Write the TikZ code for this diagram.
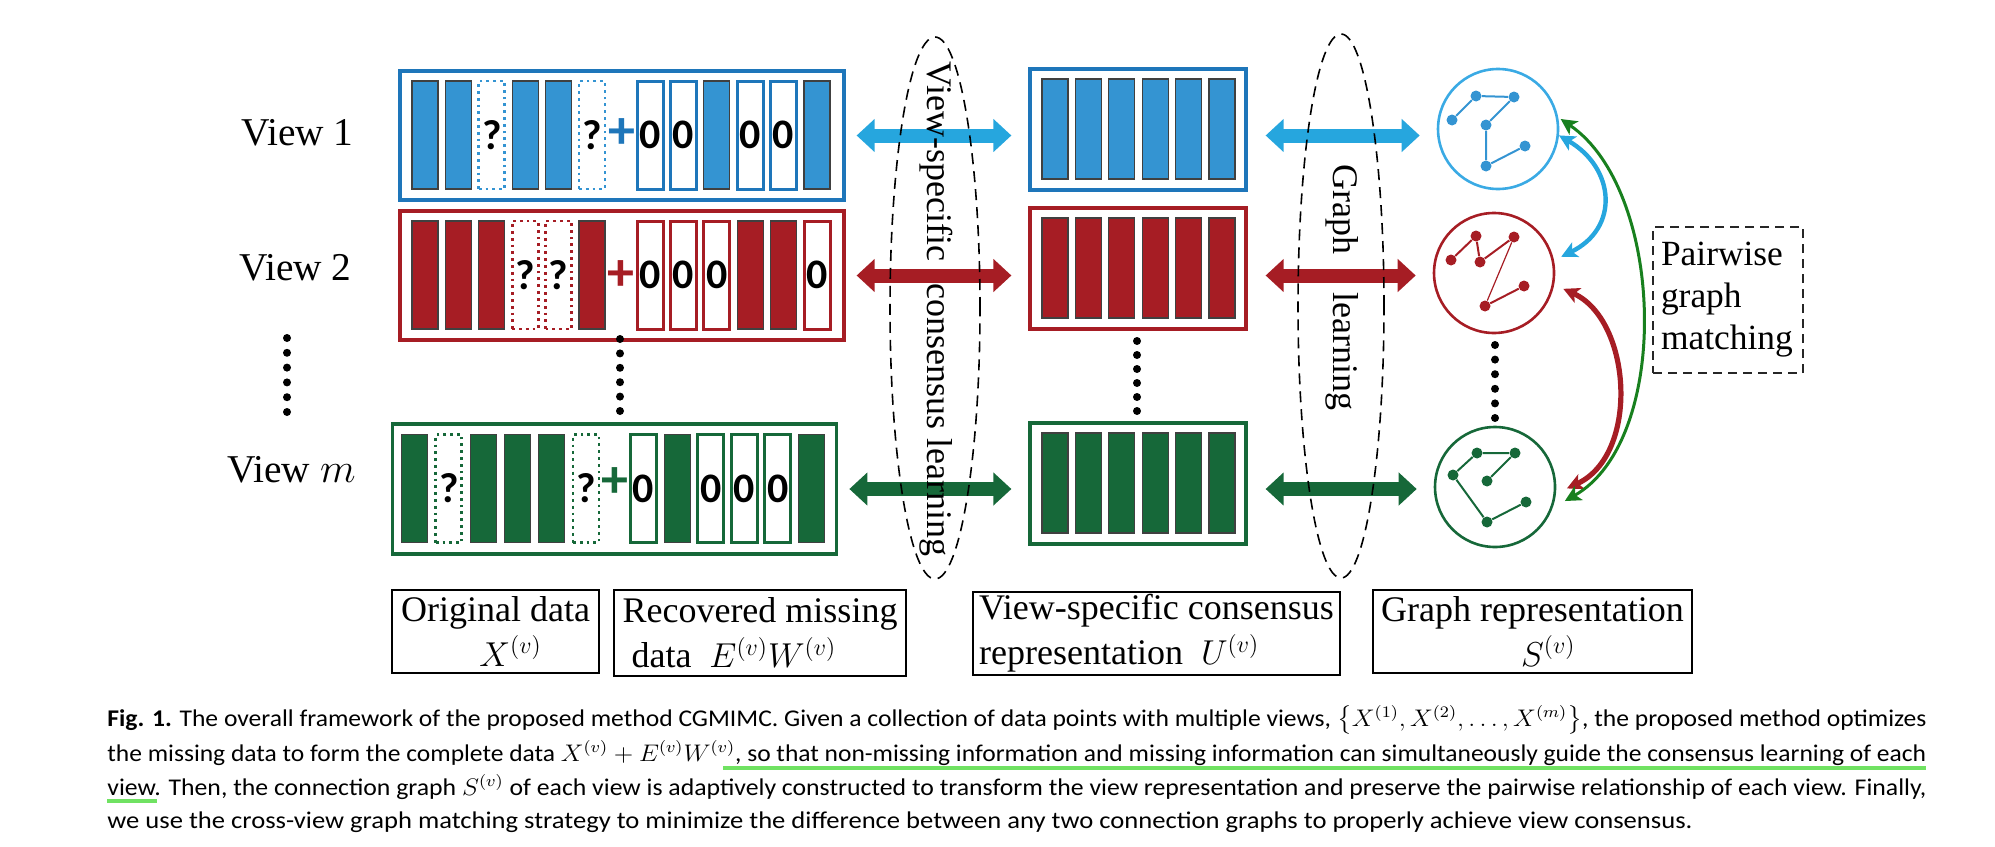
\documentclass[tikz,border=0pt]{standalone}
\usepackage{amsmath}
\usepackage{xcolor}
\usepackage{graphicx}
\usepackage{fontspec}
\usepackage{tikz}
\usetikzlibrary{arrows.meta, positioning, calc, shapes.geometric}
\setmainfont{Liberation Serif}
\newfontfamily\calfont{Carlito}

\definecolor{viewblue}{RGB}{52,148,210}
\definecolor{boxblue}{RGB}{30,118,186}
\definecolor{arrowblue}{RGB}{38,166,222}
\definecolor{graphblue}{RGB}{58,170,228}
\definecolor{viewred}{RGB}{166,29,36}
\definecolor{viewgreen}{RGB}{22,104,57}
\definecolor{matchgreen}{RGB}{24,128,30}
\definecolor{hlgreen}{RGB}{112,226,98}
\colorlet{vc}{viewblue}
\colorlet{bc}{boxblue}

\tikzset{
  rowcol/.code={\colorlet{vc}{#1}\colorlet{bc}{#1}},
  bar/.style={rectangle, inner sep=0pt, minimum width=13pt, minimum height=54pt,
    font=\calfont\bfseries\fontsize{21}{21}\selectfont},
  fullbar/.style={bar, fill=vc, draw=black!75, line width=0.6pt, node contents={}},
  missbar/.style={bar, draw=vc, line width=1.4pt, dotted, node contents={?}},
  zerobar/.style={bar, draw=bc, fill=white, line width=1.5pt, node contents={0}},
  slot/.code={\if#1f\pgfkeysalso{fullbar}\else\if#1q\pgfkeysalso{missbar}\else\pgfkeysalso{zerobar}\fi\fi},
  plussign/.style={text=bc, inner sep=0pt, font=\calfont\bfseries\fontsize{27}{27}\selectfont},
  viewbox/.style={draw=bc, line width=1.6pt, minimum width=222pt, minimum height=64.5pt, inner sep=0pt},
  repbox/.style={draw=bc, line width=1.6pt, minimum width=108pt, minimum height=60.5pt, inner sep=0pt},
  repbar/.style={rectangle, inner sep=0pt, minimum width=13pt, minimum height=50pt,
    fill=vc, draw=black!75, line width=0.6pt},
  flow/.style={line width=7pt, {Triangle[length=9pt,width=16pt]}-{Triangle[length=9pt,width=16pt]}},
  graphring/.style={circle, draw=vc, line width=1.3pt, minimum size=60pt, inner sep=0pt},
  gnode/.style={circle, fill=vc, inner sep=0pt, minimum size=5.5pt},
  gedge/.style={draw=vc, line width=1pt},
  matcharrow/.style={{Stealth[length=8pt,width=8pt,inset=2pt]}-{Stealth[length=8pt,width=8pt,inset=2pt]}},
  phase/.style={ellipse, draw, line width=0.8pt, dash pattern=on 5.5pt off 3.5pt,
    minimum width=45pt, inner sep=0pt},
  phasetext/.style={rotate=-90, inner sep=0pt, font=\fontsize{18}{18}\selectfont},
  viewlabel/.style={anchor=base east, inner sep=0pt, font=\fontsize{19.7}{20}\selectfont},
  labelbox/.style={draw, line width=1pt, inner sep=1pt, font=\fontsize{18}{22.5}\selectfont},
  matchbox/.style={draw=black!85, line width=0.8pt, dash pattern=on 4.5pt off 3pt,
    minimum width=75pt, minimum height=73pt, text width=67pt, align=left, inner sep=0pt,
    font=\fontsize{17.7}{21}\selectfont},
  capline/.style={anchor=base west, inner sep=0pt, font=\calfont\fontsize{12}{14}\selectfont},
  hilite/.style={hlgreen, line width=1.6pt}
}

\begin{document}
\begin{tikzpicture}[x=0.5pt, y=-0.5pt]
    \useasboundingbox (0,0) rectangle (1995,846);

    % Etichette delle viste
    \node[viewlabel] (l1) at (354,145) {View 1};
    \node[viewlabel] (l2) at (352,280) {View 2};
    \node[viewlabel] (lm) at (356,482) {View $m$};
    \foreach \k in {0,...,5} \fill (287,{338+14.8*\k}) circle (2pt);

    % Vista 1
    \begin{scope}[rowcol=viewblue]
        \colorlet{bc}{boxblue}
        \node[viewbox] (x1) at (622,135.5) {};
        \foreach \cl [count=\i] in {f,f,q,f,f,q}
            \node (x1-\i) at ({425+33.4*(\i-1)},135) [slot=\cl];
        \node[plussign] (p1) at (622,134) {+};
        \foreach \cl [count=\i] in {z,z,f,z,z,f}
            \node (w1-\i) at ({650+33.4*(\i-1)},135) [slot=\cl];
        \node[repbox] (u1) at (1138,129.5) {};
        \foreach \i in {1,...,6}
            \node[repbar] (u1-\i) at ({1055+33.4*(\i-1)},129) {};
    \end{scope}

    % Vista 2
    \begin{scope}[rowcol=viewred]
        \node[viewbox] (x2) at (622,275.5) {};
        \foreach \cl [count=\i] in {f,f,f,q,q,f}
            \node (x2-\i) at ({425+33.4*(\i-1)},275) [slot=\cl];
        \node[plussign] (p2) at (621,276) {+};
        \foreach \cl [count=\i] in {z,z,z,f,f,z}
            \node (w2-\i) at ({650+33.4*(\i-1)},275) [slot=\cl];
        \node[repbox] (u2) at (1138,268.5) {};
        \foreach \i in {1,...,6}
            \node[repbar] (u2-\i) at ({1055+33.4*(\i-1)},268) {};
    \end{scope}

    % puntini
    \foreach \k in {0,...,5} {
        \fill (620,{339+14.4*\k}) circle (2pt);
        \fill (1137,{341+14*\k}) circle (2pt);
        \fill (1495,{345+14.6*\k}) circle (2pt);
    }

    % Vista m
    \begin{scope}[rowcol=viewgreen]
        \node[viewbox, minimum height=65pt] (x3) at (614.75,489) {};
        \foreach \cl [count=\i] in {f,q,f,f,f,q}
            \node (x3-\i) at ({414.5+34.3*(\i-1)},488.5) [slot=\cl];
        \node[plussign] (p3) at (614.5,483) {+};
        \foreach \cl [count=\i] in {z,f,z,z,z,f}
            \node (w3-\i) at ({643.5+33.6*(\i-1)},488.5) [slot=\cl];
        \node[repbox] (u3) at (1138,483.5) {};
        \foreach \i in {1,...,6}
            \node[repbar] (u3-\i) at ({1055+33.4*(\i-1)},483) {};
    \end{scope}

    % Grafi
    \begin{scope}[rowcol=graphblue]
        \node[graphring] (g1) at (1498,129) {};
        \foreach \n/\dx/\dy in {a/-46/-9, b/-22/-33, c/16/-32, d/-12/-4, e/27/17, f/-12/37}
            \node[gnode, fill=viewblue] (g1\n) at ($(g1)+(\dx,\dy)$) {};
        \draw[gedge, viewblue] (g1a) -- (g1b) -- (g1c) -- (g1d) -- (g1f) -- (g1e);
    \end{scope}
    \begin{scope}[rowcol=viewred]
        \node[graphring] (g2) at (1494,273) {};
        \foreach \n/\dx/\dy in {a/-43/-13, b/-18/-37, c/-14/-11, d/20/-36, e/30/13, f/-9/33}
            \node[gnode] (g2\n) at ($(g2)+(\dx,\dy)$) {};
        \draw[gedge] (g2a) -- (g2b) -- (g2c) -- (g2d);
        \draw[gedge, line width=0.6pt] (g2d) -- (g2f);
        \draw[gedge] (g2f) -- (g2e);
    \end{scope}
    \begin{scope}[rowcol=viewgreen]
        \node[graphring] (g3) at (1495,487) {};
        \foreach \n/\dx/\dy in {a/-18/-34, b/20/-34, c/-42/-12, d/-8/-6, e/31/15, f/-8/35}
            \node[gnode] (g3\n) at ($(g3)+(\dx,\dy)$) {};
        \draw[gedge] (g3c) -- (g3a) -- (g3b) -- (g3d);
        \draw[gedge] (g3c) -- (g3f) -- (g3e);
    \end{scope}

    % Frecce orizzontali
    \draw[flow, arrowblue, shorten <=5.5pt, shorten >=8.5pt] (x1.east) -- (x1.east -| u1.west);
    \draw[flow, viewred, shorten <=5.5pt, shorten >=8.5pt] (x2.east) -- (x2.east -| u2.west);
    \draw[flow, viewgreen, shorten <=5.5pt, shorten >=8.5pt] (x3.east) -- (x3.east -| u3.west);
    \draw[flow, arrowblue, shorten <=9pt, shorten >=8.5pt] (x1.east -| u1.east) -- (x1.east -| g1.west);
    \draw[flow, viewred, shorten <=9pt, shorten >=8.5pt] (x2.east -| u2.east) -- (x2.east -| g2.west);
    \draw[flow, viewgreen, shorten <=9pt, shorten >=8.5pt] (x3.east -| u3.east) -- (x3.east -| g3.west);

    % Ellissi tratteggiate
    \node[phasetext] (t1) at (936,309) {View-specific\hspace{0.6em}consensus learning};
    \node[phasetext] (t2) at (1342,287.5) {Graph\hspace{1.05em}learning};
    \node[phase, minimum height=271pt] (e1) at (935,308) {};
    \node[phase, minimum width=43pt, minimum height=272pt] (e2) at (1341,306) {};

    % Graph matching
    \draw[matcharrow, arrowblue, line width=2.2pt, shorten >=4pt] (g1.-6) .. controls (1615,168) and (1620,228) .. (g2.12);
    \draw[matcharrow, viewred, line width=2.6pt, shorten <=5pt, shorten >=6pt] (g2.-11) .. controls (1632,320) and (1640,455) .. (g3.-6);
    \draw[matcharrow, matchgreen, line width=1.5pt, shorten <=1.5pt, shorten >=7pt] (g1.11) .. controls (1665,190) and (1672,440) .. (g3.-20);
    \node[matchbox] (pm) at (1728,300) {Pairwise\\graph\\matching};

    % Legenda
    \node[labelbox, align=center, minimum width=103.5pt, minimum height=41.5pt] (b1) at (495.5,631.5)
        {Original data\\\hspace*{15pt}$X^{(v)}$};
    \node[labelbox, align=left, minimum width=146pt, minimum height=43pt] (b2) at (760,633)
        {Recovered missing\\\ data\ \ $E^{(v)}W^{(v)}$};
    \node[labelbox, align=left, minimum width=183.5pt, minimum height=41.5pt] (b3) at (1156.5,633.5)
        {View-specific consensus\\representation\ \ $U^{(v)}$};
    \node[labelbox, align=left, minimum width=159.5pt, minimum height=41.5pt] (b4) at (1532.5,631.5)
        {Graph representation\\\hspace*{70pt}$S^{(v)}$};

    % Didascalia
    \node[capline] (c1) at (107,726) {\resizebox{909.5pt}{\height}{\textbf{Fig. 1.} The overall framework of the proposed method CGMIMC. Given a collection of data points with multiple views, $\bigl\{X^{(1)}, X^{(2)}, \ldots, X^{(m)}\bigr\}$, the proposed method optimizes}};
    \node[capline] (c2) at (107,761) {\resizebox{909.5pt}{\height}{the missing data to form the complete data $X^{(v)}+E^{(v)}W^{(v)}$, so that non-missing information and missing information can simultaneously guide the consensus learning of each}};
    \node[capline] (c3) at (107,795) {\resizebox{909.5pt}{\height}{view. Then, the connection graph $S^{(v)}$ of each view is adaptively constructed to transform the view representation and preserve the pairwise relationship of each view. Finally,}};
    \node[capline] (c4) at (107,828) {\resizebox{792.5pt}{\height}{we use the cross-view graph matching strategy to minimize the difference between any two connection graphs to properly achieve view consensus.}};
    \draw[hilite] (723,768) -- (1926,768);
    \draw[hilite] (107,801) -- (157,801);

\end{tikzpicture}
\end{document}
